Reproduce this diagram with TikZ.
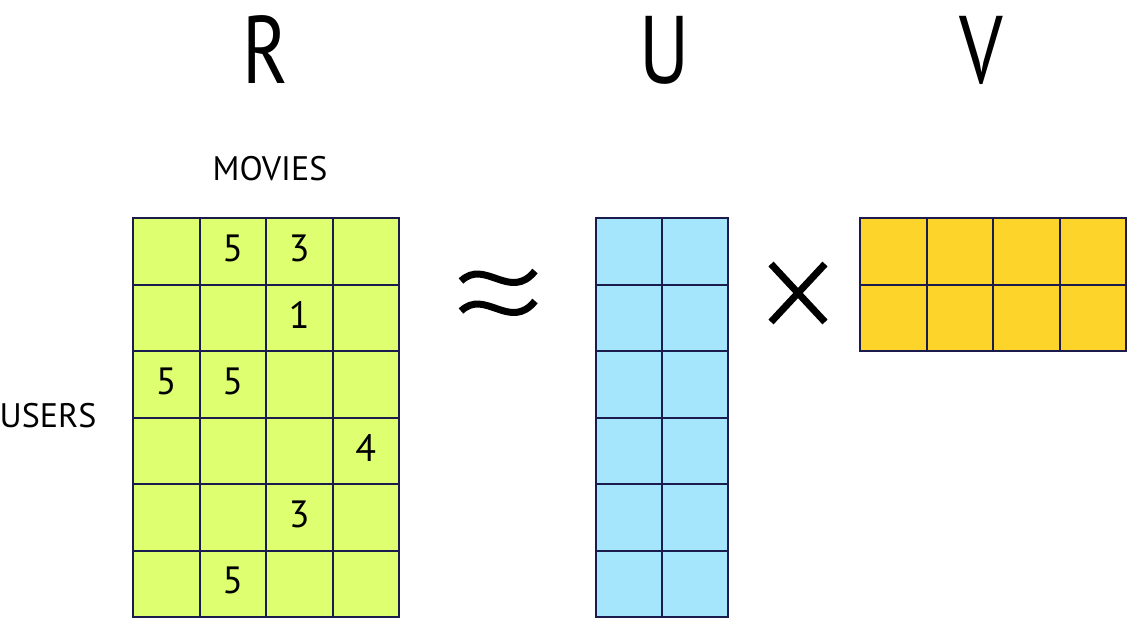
\documentclass[tikz,border=0pt]{standalone}
\usepackage{fontspec}
\setmainfont{PT Sans}
\usetikzlibrary{calc}
\definecolor{gridline}{HTML}{1B1B4D}
\definecolor{rfill}{HTML}{DDFF70}
\definecolor{ufill}{HTML}{A6E6FC}
\definecolor{vfill}{HTML}{FDD52A}
\newcommand{\tikzCellNode}[3]{
  \node[cell,fill=#3] (#1) at (#2) {};
}

\begin{document}
\begin{tikzpicture}[x=1pt, y=-1pt,
  cell/.style={draw=gridline,line width=2pt,rectangle,inner sep=0pt,minimum size=66.5pt},
  rating/.style={font=\fontsize{38}{38}\selectfont,yshift=3pt},
  title/.style={font=\fontsize{96}{96}\selectfont,xscale=0.8},
  axis/.style={font=\fontsize{34}{34}\selectfont},
  opsign/.style={line width=7pt}]
  \useasboundingbox (0,0) rectangle (1127,619);
  % matrix names
  \node[title] (tR) at (265,50) {R};
  \node[title] (tU) at (665,50) {U};
  \node[title] (tV) at (981,50) {V};
  \node[axis] (movies) at (270,169) {MOVIES};
  \node[axis] (users) at (48,416) {USERS};
  % R: 6 users x 4 movies
  \foreach \i in {1,...,6} {
    \foreach \j in {1,...,4} {
      \tikzCellNode{r\i\j}{133+66.5*\j-33.25, 218+66.5*\i-33.25}{rfill}
    }
  }
  \node[rating] at (r12) {5};
  \node[rating] at (r13) {3};
  \node[rating] at (r23) {1};
  \node[rating] at (r31) {5};
  \node[rating] at (r32) {5};
  \node[rating] at (r44) {4};
  \node[rating] at (r53) {3};
  \node[rating] at (r62) {5};
  % U: 6 x 2
  \foreach \i in {1,...,6} {
    \foreach \j in {1,2} {
      \tikzCellNode{u\i\j}{596+66*\j-33, 218+66.5*\i-33.25}{ufill}
    }
  }
  % V: 2 x 4
  \foreach \i in {1,2} {
    \foreach \j in {1,...,4} {
      \tikzCellNode{v\i\j}{860+66.5*\j-33.25, 218+66.5*\i-33.25}{vfill}
    }
  }
  % approx and times
  \draw[opsign] (461,281) .. controls (485,258) and (510,302) .. (535,271);
  \draw[opsign] (461,311) .. controls (485,288) and (510,332) .. (535,301);
  \draw[opsign] (771,264) -- (825,322);
  \draw[opsign] (771,322) -- (825,264);
\end{tikzpicture}
\end{document}
